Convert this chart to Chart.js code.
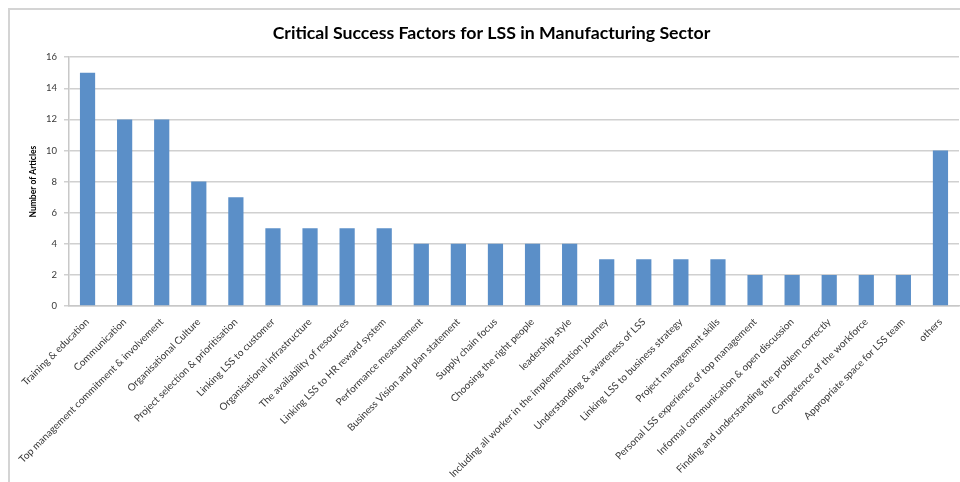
<!DOCTYPE html>
<html>
<head>
<meta charset="utf-8">
<script src="https://cdn.jsdelivr.net/npm/chart.js@4.4.0/dist/chart.umd.min.js"></script>
<style>
    html, body { margin: 0; padding: 0; background: #fff; }
    #wrap { position: relative; width: 960px; height: 482px; }
    #frame { position: absolute; left: 8px; top: 8px; right: 0; bottom: 0;
             border-left: 2px solid #d4d4d4; border-top: 2px solid #d4d4d4; }
    canvas { position: absolute; left: 0; top: 0; }
</style>
</head>
<body>
<div id="wrap">
    <div id="frame"></div>
    <canvas id="chart" width="960" height="482"></canvas>
</div>
<script>
const factors = [
    'Training & education',
    'Communication',
    'Top management commitment & involvement',
    'Organisational Culture',
    'Project selection & prioritisation',
    'Linking LSS to customer',
    'Organisational infrastructure',
    'The availability of resources',
    'Linking LSS to HR reward system',
    'Performance measurement',
    'Business Vision and plan statement',
    'Supply chain focus',
    'Choosing the right people',
    'leadership style',
    'Including all worker in the implementation journey',
    'Understanding & awareness of LSS',
    'Linking LSS to business strategy',
    'Project management skills',
    'Personal LSS experience of top management',
    'Informal communication & open discussion',
    'Finding and understanding the problem correctly',
    'Competence of the workforce',
    'Appropriate space for LSS team',
    'others'
];
const articles = [15, 12, 12, 8, 7, 5, 5, 5, 5, 4, 4, 4, 4, 4, 3, 3, 3, 3, 2, 2, 2, 2, 2, 10];
const yTicks = [0, 2, 4, 6, 8, 10, 12, 14, 16];

const font = "Lato, 'Open Sans', sans-serif";
const ctx = document.getElementById('chart').getContext('2d');

new Chart(ctx, {
    type: 'bar',
    data: {
        labels: factors,
        datasets: [{
            label: 'Number of Articles',
            data: articles,
            backgroundColor: '#5b8fc8',
            borderWidth: 0,
            barPercentage: 0.41,
            categoryPercentage: 1
        }]
    },
    options: {
        responsive: false,
        animation: false,
        layout: {padding: {left: 24, right: 1, top: 0, bottom: 0}},
        plugins: {
            legend: {display: false},
            tooltip: {enabled: false},
            title: {
                display: true,
                text: 'Critical Success Factors for LSS in Manufacturing Sector',
                color: '#000',
                font: {family: font, size: 17.7, weight: 'bold'},
                padding: {top: 23, bottom: 13}
            }
        },
        scales: {
            x: {
                grid: {display: false},
                border: {display: true, color: '#c8c8c8', width: 1.5},
                ticks: {
                    color: '#383838',
                    font: {family: font, size: 10},
                    autoSkip: false,
                    maxRotation: 45,
                    minRotation: 45,
                    padding: 2
                },
                afterFit: s => { s.height = 176; }
            },
            y: {
                min: 0,
                max: 16,
                afterBuildTicks: s => { s.ticks = yTicks.map(v => ({value: v})); },
                grid: {color: '#d0d0d0', lineWidth: 1.5, tickLength: 5},
                border: {display: true, color: '#c8c8c8', width: 1.5},
                ticks: {
                    color: '#383838',
                    font: {family: font, size: 9.5},
                    padding: 7
                },
                title: {
                    display: true,
                    text: 'Number of Articles',
                    color: '#000',
                    font: {family: font, size: 8.5, weight: 'bold'},
                    padding: {top: 4, bottom: 0}
                },
                afterFit: s => { s.width = 45; }
            }
        }
    }
});
</script>
</body>
</html>
